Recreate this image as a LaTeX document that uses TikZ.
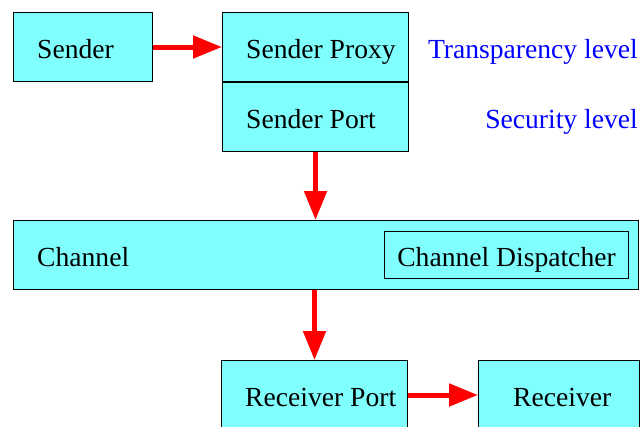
\documentclass[tikz,border=0pt]{standalone}
\usepackage{fontspec}
\setmainfont{Liberation Serif}
\usetikzlibrary{arrows.meta,positioning}
\definecolor{boxcyan}{RGB}{128,255,255}

\begin{document}
\begin{tikzpicture}[x=1pt,y=-1pt,
    font=\fontsize{27.6}{32}\selectfont,
    box/.style={draw, fill=boxcyan, line width=1pt,
      minimum height=69pt, inner sep=0pt},
    tag/.style={anchor=base west, inner sep=0pt, xshift=24pt, yshift=-11.5pt},
    flow/.style={draw=red, line width=5pt,
      -{Triangle[length=29pt,width=22pt]}},
    level/.style={text=blue, anchor=base east, inner sep=0pt}
  ]
  \useasboundingbox (0,0) rectangle (642,426);
  % sending side
  \node[box, minimum width=139pt, anchor=north west,
    label={[tag]west:Sender}] (sender) at (13,12) {};
  \node[box, minimum width=186pt, right=69pt of sender,
    label={[tag]west:Sender Proxy}] (proxy) {};
  \node[box, minimum width=186pt, below=0pt of proxy,
    label={[tag]west:Sender Port}] (sport) {};
  \node[level] (transp) at (638,58) {Transparency level};
  \node[level] (secur) at (638,128) {Security level};
  % channel with its dispatcher
  \node[box, minimum width=625pt, anchor=north west,
    label={[tag]west:Channel}] (channel) at (13,220) {};
  \node[draw, line width=1pt, minimum width=244pt, minimum height=47pt,
    inner sep=0pt, text height=25pt, text depth=2.6pt,
    anchor=east] (dispatch) at ([xshift=-10pt]channel.east) {Channel Dispatcher};
  % receiving side
  \node[box, minimum width=186pt, anchor=north west,
    label={[tag]west:Receiver Port}] (rport) at (221,360) {};
  \node[box, minimum width=161pt, right=70pt of rport,
    label={[tag, xshift=11pt]west:Receiver}] (receiver) {};
  % message flow
  \draw[flow] (sender) -- (proxy);
  \draw[flow] (sport) -- (sport |- channel.north);
  \draw[flow] (channel.south -| rport) -- (rport);
  \draw[flow] (rport) -- (receiver);
\end{tikzpicture}
\end{document}
